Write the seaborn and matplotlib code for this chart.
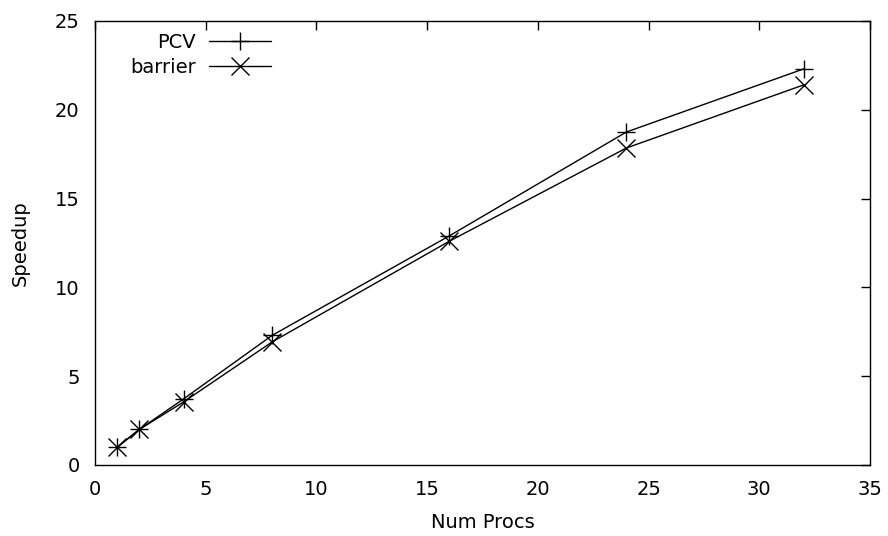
import matplotlib
matplotlib.use("Agg")
import matplotlib.pyplot as plt
import seaborn as sns
import pandas as pd

procs = [1, 2, 4, 8, 16, 24, 32]
pcv = [1.0, 2.0, 3.72, 7.3, 12.9, 18.75, 22.3]
barrier = [1.0, 2.0, 3.55, 6.93, 12.6, 17.85, 21.4]

sns.set_theme(style="white")
plt.rcParams['font.family'] = ['DejaVu Sans']
plt.rcParams['text.color'] = 'black'
plt.rcParams['axes.labelcolor'] = 'black'

FS = 14

df = pd.DataFrame({
    "procs": procs * 2,
    "speedup": pcv + barrier,
    "series": ["PCV"] * len(procs) + ["barrier"] * len(procs),
})

fig = plt.figure(figsize=(8.88, 5.36), dpi=100)
ax = fig.add_axes([95/888, 71/536, 775/888, 444/536])
sns.lineplot(data=df, x="procs", y="speedup", hue="series", style="series",
             markers={"PCV": "+", "barrier": "x"}, dashes=False,
             palette={"PCV": "black", "barrier": "black"},
             markersize=13, markeredgewidth=1.0, markeredgecolor="black",
             linewidth=1.0, ax=ax)
ax.set_xlim(0, 35)
ax.set_ylim(0, 25)
ax.set_xticks(range(0, 36, 5))
ax.set_yticks(range(0, 26, 5))
ax.set_xlabel("Num Procs", fontsize=FS, labelpad=10)
ax.set_ylabel("Speedup", fontsize=FS, labelpad=18)
ax.tick_params(direction="in", length=6.5, width=1, top=True, right=True,
               labelsize=FS, colors="black", pad=11)
for s in ax.spines.values():
    s.set_color("black")
    s.set_linewidth(1)
leg = ax.legend(loc="upper left", frameon=False, markerfirst=False,
                fontsize=FS, handlelength=3.2, handletextpad=0.7,
                borderaxespad=0.0, labelspacing=0.3,
                bbox_to_anchor=(0.035, 0.991))
for t in leg.get_texts():
    t.set_ha("right")
    t.set_color("black")
fig.savefig("out.png", dpi=100)
